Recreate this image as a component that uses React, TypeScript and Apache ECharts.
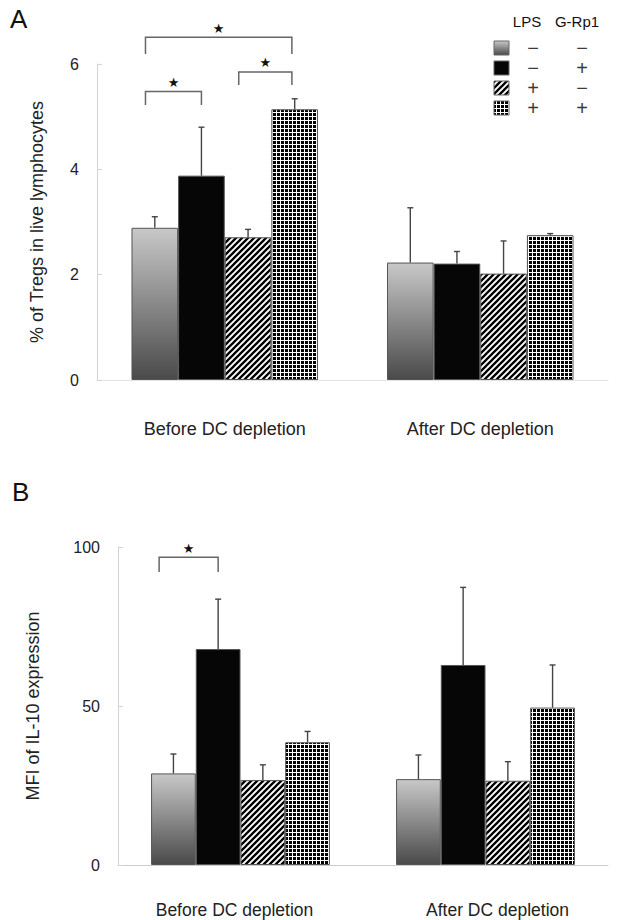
import React, { useEffect, useRef } from 'react';
import * as echarts from 'echarts';

// ---------- data ----------
const categories = ['Before DC depletion', 'After DC depletion'];
const groupNames = ['LPS−/G-Rp1−', 'LPS−/G-Rp1+', 'LPS+/G-Rp1−', 'LPS+/G-Rp1+'];
const lpsSigns = ['−', '−', '+', '+'];
const grp1Signs = ['−', '+', '−', '+'];

// Panel A: % of Tregs in live lymphocytes (mean, SD) per group, [before, after]
const tregCtrl = [2.89, 2.23];
const tregGrp1 = [3.88, 2.21];
const tregLps = [2.71, 2.02];
const tregBoth = [5.14, 2.75];
const tregCtrlSd = [0.21, 1.04];
const tregGrp1Sd = [0.92, 0.23];
const tregLpsSd = [0.15, 0.62];
const tregBothSd = [0.2, 0.03];

// Panel B: MFI of IL-10 expression
const il10Ctrl = [28.8, 27.0];
const il10Grp1 = [67.9, 62.9];
const il10Lps = [26.7, 26.5];
const il10Both = [38.6, 49.5];
const il10CtrlSd = [6.1, 7.6];
const il10Grp1Sd = [15.7, 24.4];
const il10LpsSd = [4.8, 6.0];
const il10BothSd = [3.4, 13.4];

// axes
const yTicksA = [0, 2, 4, 6];
const yTicksB = [0, 50, 100];

// significance brackets: [category, fromSlot, toSlot, topValue, legBottomValue]
const bracketsA = [
  [0, -0.2, 2.94, 6.51, 6.19],
  [0, -0.2, 1.0, 5.48, 5.22],
  [0, 1.8, 2.94, 5.85, 5.6],
];
const bracketsB = [[0, -0.32, 1.0, 96.8, 92.1]];

const CAT_GAP = 0.27;
const FONT = '"Liberation Sans", Arial, Helvetica, sans-serif';

function stripeCanvas() {
  const c = document.createElement('canvas');
  c.width = 6;
  c.height = 6;
  const g = c.getContext('2d')!;
  g.fillStyle = '#ffffff';
  g.fillRect(0, 0, 6, 6);
  g.strokeStyle = '#000000';
  g.lineWidth = 2.3;
  g.beginPath();
  g.moveTo(-1, 7);
  g.lineTo(7, -1);
  g.moveTo(-1, 1);
  g.lineTo(1, -1);
  g.moveTo(5, 7);
  g.lineTo(7, 5);
  g.stroke();
  return c;
}

function gridCanvas() {
  const c = document.createElement('canvas');
  c.width = 4;
  c.height = 4;
  const g = c.getContext('2d')!;
  g.fillStyle = '#000000';
  g.fillRect(0, 0, 4, 4);
  g.fillStyle = '#ffffff';
  g.fillRect(0, 0, 4, 1);
  g.fillRect(0, 0, 1, 4);
  return c;
}

export default function App() {
  const ref = useRef<HTMLDivElement>(null);

  useEffect(() => {
    if (!ref.current) return;
    const chart = echarts.init(ref.current, undefined, { renderer: 'svg' });

    const stripes = stripeCanvas();
    const grid = gridCanvas();
    const fills: any[] = [
      new echarts.graphic.LinearGradient(0, 0, 0, 1, [
        { offset: 0, color: '#c8c8c8' },
        { offset: 1, color: '#4a4a4a' },
      ]),
      '#060606',
      { image: stripes, repeat: 'repeat', imageWidth: 6, imageHeight: 6 },
      { image: grid, repeat: 'repeat', imageWidth: 4, imageHeight: 4 },
    ];

    const meansA = [tregCtrl, tregGrp1, tregLps, tregBoth];
    const sdsA = [tregCtrlSd, tregGrp1Sd, tregLpsSd, tregBothSd];
    const meansB = [il10Ctrl, il10Grp1, il10Lps, il10Both];
    const sdsB = [il10CtrlSd, il10Grp1Sd, il10LpsSd, il10BothSd];

    const errData = (means: number[][], sds: number[][]) => {
      const out: number[][] = [];
      means.forEach((m, s) => m.forEach((v, c) => out.push([c, v, sds[s][c], s])));
      return out;
    };

    const errRender = (params: any, api: any) => {
      const cat = api.value(0);
      const mean = api.value(1);
      const sd = api.value(2);
      const slot = api.value(3);
      const base = api.coord([cat, mean]);
      const band = api.size([1, 0])[0];
      const barW = (band * (1 - CAT_GAP)) / 4;
      const x = base[0] + (slot - 1.5) * barW;
      const yTop = api.coord([cat, mean + sd])[1];
      const st = { stroke: '#444', lineWidth: 1.4 };
      return {
        type: 'group',
        children: [
          { type: 'line', shape: { x1: x, y1: base[1], x2: x, y2: yTop }, style: st },
          { type: 'line', shape: { x1: x - 3, y1: yTop, x2: x + 3, y2: yTop }, style: st },
        ],
      };
    };

    const bracketRender = (params: any, api: any) => {
      const cat = api.value(0);
      const from = api.value(1);
      const to = api.value(2);
      const top = api.value(3);
      const bottom = api.value(4);
      const center = api.coord([cat, 0])[0];
      const band = api.size([1, 0])[0];
      const barW = (band * (1 - CAT_GAP)) / 4;
      const x1 = center + (from - 1.5) * barW;
      const x2 = center + (to - 1.5) * barW;
      const yT = api.coord([cat, top])[1];
      const yB = api.coord([cat, bottom])[1];
      return {
        type: 'group',
        children: [
          {
            type: 'polyline',
            shape: { points: [[x1, yB], [x1, yT], [x2, yT], [x2, yB]] },
            style: { stroke: '#666', lineWidth: 1.5, fill: 'none' },
          },
          {
            type: 'text',
            x: (x1 + x2) / 2,
            y: yT - 9,
            style: {
              text: '★',
              fontSize: 13,
              fontFamily: '"DejaVu Sans", sans-serif',
              fill: '#111',
              align: 'center',
              verticalAlign: 'middle',
            },
          },
        ],
      };
    };

    const barSeries = (means: number[][], idx: number) =>
      means.map((m, s) => ({
        type: 'bar',
        name: groupNames[s],
        xAxisIndex: idx,
        yAxisIndex: idx,
        data: m,
        barGap: '0%',
        barCategoryGap: CAT_GAP * 100 + '%',
        itemStyle: { color: fills[s], borderColor: '#555', borderWidth: 1 },
      }));

    const xAxisCommon = (lineColor: string, fontSize: number, margin: number) => ({
      type: 'category',
      data: categories,
      axisLine: { lineStyle: { color: lineColor, width: 1 } },
      axisTick: { inside: true, length: 7, lineStyle: { color: '#c8c8c8' } },
      axisLabel: { color: '#222', fontSize, fontFamily: FONT, margin },
    });

    const yAxisCommon = (ticks: number[], name: string, nameGap: number) => ({
      type: 'value',
      min: ticks[0],
      max: ticks[ticks.length - 1],
      interval: ticks[1] - ticks[0],
      name,
      nameLocation: 'middle',
      nameRotate: 90,
      nameGap,
      nameTextStyle: { color: '#222', fontSize: 18, fontFamily: FONT },
      axisLine: { show: true, lineStyle: { color: '#d4d4d4' } },
      axisTick: { show: true, inside: true, length: 5, lineStyle: { color: '#d4d4d4' } },
      splitLine: { show: false },
      axisLabel: { color: '#222', fontSize: 16, fontFamily: FONT, margin: 18 },
    });

    const legendRows = [48, 68, 88, 108];
    const legendGraphic: any[] = [
      { type: 'text', left: 10, top: 6, style: { text: 'A', fontSize: 26, fontFamily: FONT, fill: '#111' } },
      { type: 'text', left: 12, top: 479, style: { text: 'B', fontSize: 26, fontFamily: FONT, fill: '#111' } },
      {
        type: 'text',
        x: 527,
        y: 21,
        style: { text: 'LPS', fontSize: 15, fontFamily: FONT, fill: '#111', align: 'center', verticalAlign: 'middle' },
      },
      {
        type: 'text',
        x: 577,
        y: 21,
        style: { text: 'G-Rp1', fontSize: 15, fontFamily: FONT, fill: '#111', align: 'center', verticalAlign: 'middle' },
      },
    ];
    legendRows.forEach((y, i) => {
      legendGraphic.push({
        type: 'rect',
        shape: { x: 494, y: y - 7, width: 15, height: 14 },
        style: { fill: fills[i], stroke: '#666', lineWidth: 1 },
      });
      legendGraphic.push({
        type: 'text',
        x: 533,
        y,
        style: { text: lpsSigns[i], fontSize: 20, fontFamily: FONT, fill: '#3a3a3a', align: 'center', verticalAlign: 'middle' },
      });
      legendGraphic.push({
        type: 'text',
        x: 582,
        y,
        style: { text: grp1Signs[i], fontSize: 20, fontFamily: FONT, fill: '#3a3a3a', align: 'center', verticalAlign: 'middle' },
      });
    });

    chart.setOption({
      animation: false,
      backgroundColor: '#ffffff',
      textStyle: { fontFamily: FONT },
      grid: [
        { left: 97, top: 64, width: 511, height: 316 },
        { left: 118, top: 547, width: 490, height: 318 },
      ],
      xAxis: [
        { ...xAxisCommon('#e2e2e2', 18, 40), gridIndex: 0 },
        {
          ...xAxisCommon('#cccccc', 17.5, 36),
          gridIndex: 1,
          axisLabel: {
            color: '#222',
            fontSize: 17.5,
            fontFamily: FONT,
            margin: 36,
            formatter: (v: string, i: number) => (i === 0 ? '{a|' + v + '}' : '{b|' + v + '}'),
            rich: {
              a: { fontSize: 17.5, fontFamily: FONT, color: '#222', padding: [0, 12, 0, 0] },
              b: { fontSize: 17.5, fontFamily: FONT, color: '#222', padding: [0, 0, 0, 24] },
            },
          },
        },
      ],
      yAxis: [
        { ...yAxisCommon(yTicksA, '% of Tregs in live lymphocytes', 51), gridIndex: 0 },
        { ...yAxisCommon(yTicksB, 'MFI of IL-10 expression', 76), gridIndex: 1 },
      ],
      series: [
        ...barSeries(meansA, 0),
        ...barSeries(meansB, 1),
        {
          type: 'custom',
          xAxisIndex: 0,
          yAxisIndex: 0,
          data: errData(meansA, sdsA),
          encode: { x: 0, y: 1 },
          renderItem: errRender,
          z: 5,
        },
        {
          type: 'custom',
          xAxisIndex: 1,
          yAxisIndex: 1,
          data: errData(meansB, sdsB),
          encode: { x: 0, y: 1 },
          renderItem: errRender,
          z: 5,
        },
        {
          type: 'custom',
          xAxisIndex: 0,
          yAxisIndex: 0,
          data: bracketsA,
          encode: { x: 0, y: 3 },
          renderItem: bracketRender,
          clip: false,
          z: 5,
        },
        {
          type: 'custom',
          xAxisIndex: 1,
          yAxisIndex: 1,
          data: bracketsB,
          encode: { x: 0, y: 3 },
          renderItem: bracketRender,
          clip: false,
          z: 5,
        },
      ],
      graphic: legendGraphic,
    });

    return () => chart.dispose();
  }, []);

  return (
    <div
      ref={ref}
      style={{ position: 'fixed', left: 0, top: 0, width: 617, height: 920, background: '#fff' }}
    />
  );
}
